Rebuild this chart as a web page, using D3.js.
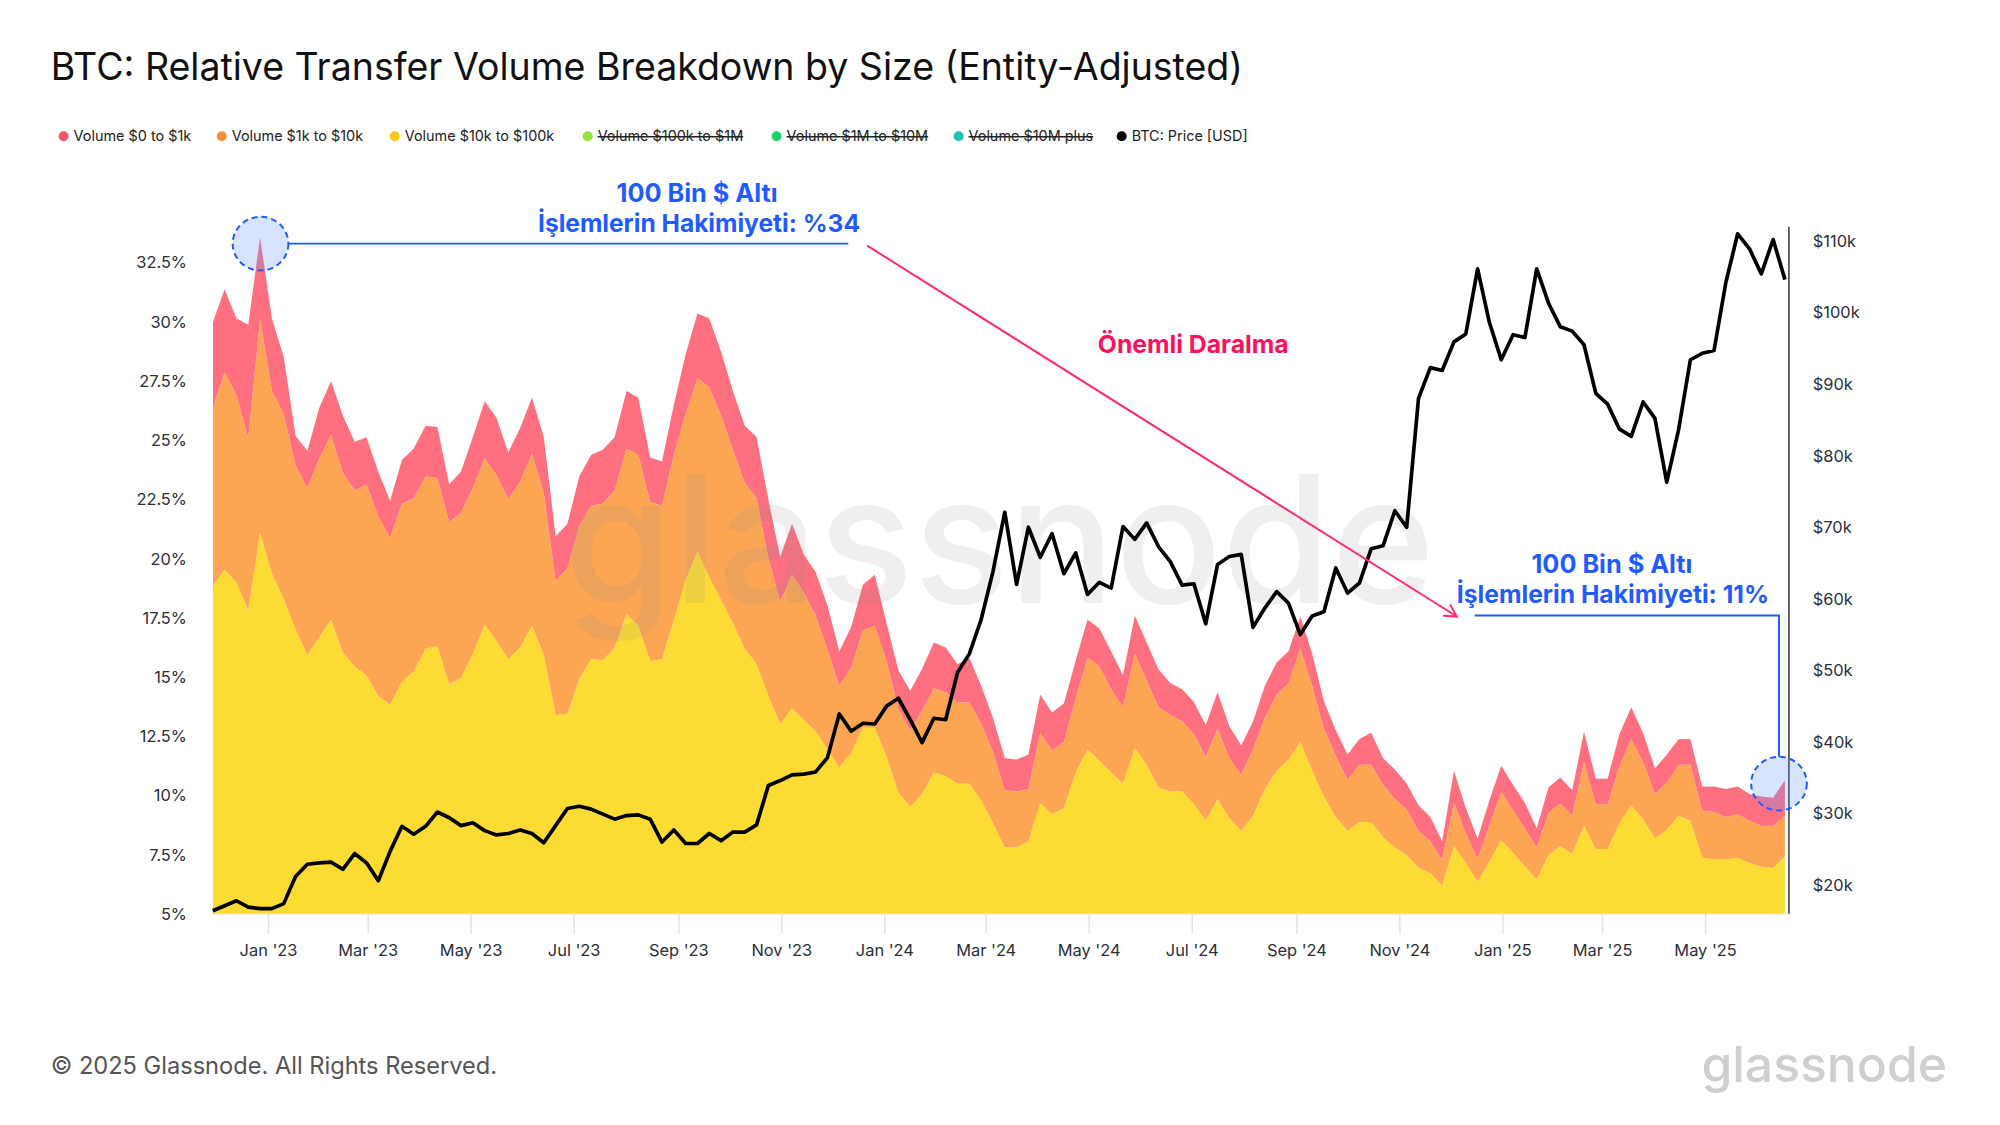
<!DOCTYPE html>
<html><head><meta charset="utf-8">
<script src="https://cdn.jsdelivr.net/npm/d3@7"></script>
<style>html,body{margin:0;padding:0;background:#fff;}svg{display:block;}</style>
</head><body>
<svg id="chart" width="2000" height="1125"></svg>
<script>
// ---------------- DATA (weekly, starting 2022-11-29) ----------------
const startDate = "2022-11-29";
const stepDays = 7;

// Volume $10k to $100k (share of total, %)
const vol10kTo100k = [
18.83,19.53,18.99,17.81,21.09,19.37,18.29,17.00,15.93,16.68,
17.43,16.03,15.44,15.06,14.20,13.83,14.80,15.23,16.19,16.30,
14.69,14.96,15.98,17.22,16.52,15.76,16.25,17.16,15.93,13.40,
13.45,14.90,15.76,15.71,16.25,17.65,17.16,15.66,15.76,17.38,
19.10,20.29,19.21,18.24,17.27,16.19,15.55,14.20,13.02,13.67,
13.18,12.70,11.94,11.19,11.78,12.86,12.86,11.62,10.11,9.52,
10.06,10.97,10.81,10.49,10.49,9.79,8.82,7.80,7.80,8.07,
9.68,9.20,9.47,10.97,11.94,11.46,10.97,10.49,12.00,11.30,
10.33,10.17,10.17,9.63,8.93,9.84,9.04,8.50,9.14,10.27,
11.03,11.51,12.27,11.03,9.95,9.09,8.50,8.88,8.88,8.23,
7.80,7.48,6.94,6.72,6.18,7.85,7.15,6.35,7.21,8.12,
7.58,6.99,6.45,7.48,7.85,7.53,8.71,7.74,7.74,8.82,
9.57,8.98,8.18,8.55,9.14,8.93,7.37,7.31,7.31,7.37,
7.15,6.99,6.94,7.42];

// Volume $1k to $10k (%)
const vol1kTo10k = [
7.53,8.34,7.91,7.27,9.04,7.70,7.80,6.94,7.05,7.53,
7.80,7.59,7.43,8.07,7.59,7.05,7.53,7.32,7.27,7.10,
6.84,7.00,7.00,7.00,7.00,6.73,7.00,7.27,6.84,5.65,
6.14,6.46,6.46,6.62,6.62,7.00,7.21,6.73,6.46,7.00,
7.00,7.32,8.02,7.80,7.32,7.00,7.00,5.81,5.17,5.65,
5.38,4.90,4.20,3.44,3.61,4.09,4.31,4.04,3.55,3.23,
3.50,3.55,3.55,3.44,3.44,3.23,3.01,2.42,2.37,2.21,
2.96,2.69,2.80,3.12,3.88,3.98,3.50,3.23,3.98,3.55,
3.39,3.23,2.96,2.96,2.69,2.96,2.53,2.37,2.80,3.01,
3.23,3.23,3.93,3.61,2.85,2.58,2.15,2.42,2.42,2.21,
2.05,1.94,1.56,1.35,1.08,1.83,1.24,0.97,1.51,2.05,
1.78,1.61,1.35,1.78,1.83,1.61,2.69,1.88,1.88,2.42,
2.80,2.42,1.88,1.99,2.15,2.37,1.99,1.99,1.78,1.83,
1.78,1.72,1.78,1.72];

// Volume $0 to $1k (%)
const vol0To1k = [
3.61,3.50,3.23,4.79,3.44,3.07,2.42,1.24,1.56,2.15,
2.26,2.42,2.05,1.99,1.88,1.56,1.83,2.10,2.15,2.15,
1.61,1.72,2.15,2.42,2.42,1.99,2.26,2.37,2.37,1.88,
1.88,2.10,2.15,2.26,2.26,2.42,2.42,1.88,1.88,2.10,
2.53,2.74,2.91,2.69,2.48,2.42,2.58,2.48,1.88,2.15,
1.61,1.83,1.88,1.45,1.72,1.94,2.15,1.61,1.61,1.67,
1.78,1.94,1.88,1.61,1.88,1.61,1.45,1.35,1.35,1.45,
1.61,1.61,1.61,1.61,1.61,1.61,1.61,1.35,1.61,1.61,
1.61,1.35,1.35,1.35,1.35,1.56,1.35,1.24,1.18,1.35,
1.35,1.35,1.35,1.35,1.18,1.08,1.08,1.08,1.35,1.13,
1.24,1.08,1.08,1.02,0.81,1.35,1.08,0.86,1.08,1.08,
1.08,1.08,0.81,1.08,1.08,1.08,1.29,1.08,1.08,1.35,
1.35,1.24,1.08,1.18,1.08,1.08,1.02,1.08,1.18,1.18,
1.13,1.24,1.18,1.51];

// BTC price (USD thousands)
const btcPriceK = [
16.4,17.1,17.8,16.9,16.7,16.7,17.4,21.2,22.9,23.1,
23.2,22.2,24.4,23.1,20.6,24.7,28.2,27.1,28.2,30.2,
29.4,28.3,28.7,27.6,27.0,27.2,27.7,27.2,25.9,28.3,
30.7,31.0,30.6,29.9,29.2,29.7,29.8,29.2,26.0,27.7,
25.8,25.8,27.2,26.2,27.4,27.4,28.4,33.9,34.6,35.4,
35.5,35.8,37.8,43.9,41.5,42.6,42.5,45.0,46.1,43.1,
39.9,43.3,43.1,49.7,52.3,57.1,63.8,72.1,62.0,70.0,
65.8,69.1,63.5,66.4,60.6,62.3,61.5,70.1,68.3,70.6,
67.3,65.2,61.9,62.1,56.5,64.8,65.9,66.2,56.0,58.7,
61.0,59.4,55.0,57.6,58.2,64.3,60.8,62.2,67.0,67.4,
72.3,70.0,88.0,92.3,91.9,95.9,97.0,106.1,98.6,93.4,
96.9,96.5,106.1,101.3,98.0,97.4,95.5,88.7,87.2,83.7,
82.7,87.5,85.2,76.3,83.6,93.4,94.3,94.7,104.2,111.0,
108.9,105.4,110.2,104.6];

const xTickDates = ["2023-01-01","2023-03-01","2023-05-01","2023-07-01","2023-09-01","2023-11-01",
  "2024-01-01","2024-03-01","2024-05-01","2024-07-01","2024-09-01","2024-11-01",
  "2025-01-01","2025-03-01","2025-05-01"];
const xTickLabels = ["Jan '23","Mar '23","May '23","Jul '23","Sep '23","Nov '23",
  "Jan '24","Mar '24","May '24","Jul '24","Sep '24","Nov '24",
  "Jan '25","Mar '25","May '25"];
const yLeftTicks = [5,7.5,10,12.5,15,17.5,20,22.5,25,27.5,30,32.5];
const yLeftLabels = ["5%","7.5%","10%","12.5%","15%","17.5%","20%","22.5%","25%","27.5%","30%","32.5%"];
const yRightTicks = [20,30,40,50,60,70,80,90,100,110];
const yRightLabels = ["$20k","$30k","$40k","$50k","$60k","$70k","$80k","$90k","$100k","$110k"];

const legendNames = ["Volume $0 to $1k","Volume $1k to $10k","Volume $10k to $100k","Volume $100k to $1M","Volume $1M to $10M","Volume $10M plus","BTC: Price [USD]"];
const legendColors = ["#f5566a","#fa8f35","#f8c816","#96e13a","#19d36c","#19c6ad","#000000"];
const legendHidden = [false,false,false,true,true,true,false];

// ---------------- LAYOUT ----------------
const L = 214, R = 1795, T = 228, B = 919;
const FONT = "Inter, 'Noto Sans', sans-serif";

const root = d3.select("#chart");
const svg = root.append("g").attr("transform", "scale(0.9944)");
const parse = d3.utcParse("%Y-%m-%d");
const t0 = parse(startDate);
const dates = vol0To1k.map((_, i) => d3.utcDay.offset(t0, i * stepDays));
const rows = dates.map((d, i) => ({date: d, y: vol10kTo100k[i], o: vol1kTo10k[i], r: vol0To1k[i], p: btcPriceK[i]}));

const x = d3.scaleUtc().domain([dates[0], dates[dates.length - 1]]).range([L, R]);
const yL = d3.scaleLinear().domain([5, 34.01]).range([B, T]);
const yR = d3.scaleLinear().domain([15.97, 111.99]).range([B, T]);

function fit(sel, target) {
  const w = sel.node().getComputedTextLength();
  const fs = parseFloat(sel.attr("font-size"));
  sel.attr("font-size", (fs * target / w).toFixed(2));
  return sel;
}

// Title
fit(svg.append("text").attr("x", 51).attr("y", 80).attr("font-family", FONT).attr("font-size", 36)
  .attr("fill", "#111").text("BTC: Relative Transfer Volume Breakdown by Size (Entity-Adjusted)"), 1199);

// Legend
const legX = [64, 223, 397, 591, 781, 964, 1128];
legendNames.forEach((n, i) => {
  const g = svg.append("g");
  g.append("circle").attr("cx", legX[i]).attr("cy", 137).attr("r", 5).attr("fill", legendColors[i]);
  const t = g.append("text").attr("x", legX[i] + 10).attr("y", 142).attr("font-family", FONT)
    .attr("font-size", 14.5).attr("fill", "#222").text(n);
  if (legendHidden[i]) {
    const w = t.node().getComputedTextLength();
    g.append("line").attr("x1", legX[i] + 10).attr("x2", legX[i] + 10 + w).attr("y1", 137.5).attr("y2", 137.5)
      .attr("stroke", "#222").attr("stroke-width", 1.3);
  }
});

// Clip
root.append("defs").append("clipPath").attr("id", "plotClip").append("rect")
  .attr("x", L).attr("y", T - 10).attr("width", R - L).attr("height", B - T + 10);

// Stacked areas
const stack = d3.stack().keys(["y", "o", "r"]);
const series = stack(rows);
const fills = {y: "#fddb35", o: "#fca654", r: "#fe7080"};
const area = d3.area().x(d => x(d.data.date)).y0(d => yL(d[0])).y1(d => yL(d[1])).curve(d3.curveLinear);
const plot = svg.append("g").attr("clip-path", "url(#plotClip)");
plot.selectAll("path.area").data(series).join("path").attr("class", "area")
  .attr("d", area).attr("fill", d => fills[d.key]);

// Watermark
fit(svg.append("text").attr("x", 567).attr("y", 606).attr("font-family", FONT).attr("font-weight", 500)
  .attr("font-size", 165).attr("fill", "#8a8a8a").attr("opacity", 0.13).text("glassnode"), 876);

// x ticks
const xTicks = xTickDates.map(parse);
svg.append("line").attr("x1", L).attr("x2", R).attr("y1", B + 0.5).attr("y2", B + 0.5).attr("stroke", "#ececec");
xTicks.forEach((d, i) => {
  svg.append("line").attr("x1", x(d)).attr("x2", x(d)).attr("y1", B).attr("y2", B + 20)
    .attr("stroke", "#e4e4e4").attr("stroke-width", 1.5);
  svg.append("text").attr("x", x(d)).attr("y", 961).attr("text-anchor", "middle").attr("font-family", FONT)
    .attr("font-size", 16.5).attr("fill", "#2a2f3a").text(xTickLabels[i]);
});

// left y ticks
yLeftTicks.forEach((v, i) => {
  svg.append("text").attr("x", 188).attr("y", yL(v) + 6).attr("text-anchor", "end").attr("font-family", FONT)
    .attr("font-size", 16.5).attr("fill", "#2a2f3a").text(yLeftLabels[i]);
});
// right y ticks
yRightTicks.forEach((v, i) => {
  svg.append("text").attr("x", 1823).attr("y", yR(v) + 6).attr("font-family", FONT)
    .attr("font-size", 16.5).attr("fill", "#2a2f3a").text(yRightLabels[i]);
});
svg.append("line").attr("x1", 1799).attr("x2", 1799).attr("y1", T).attr("y2", B).attr("stroke", "#333").attr("stroke-width", 1.5);

// Price line
const line = d3.line().x(d => x(d.date)).y(d => yR(d.p)).curve(d3.curveLinear);
svg.append("path").datum(rows).attr("d", line).attr("fill", "none").attr("stroke", "#000")
  .attr("stroke-width", 3.7).attr("stroke-linejoin", "round");

// ---------------- Annotations ----------------
const blue = "#1f5bff";
const pink = "#ff2a74";
function ell(cx, cy) {
  svg.append("ellipse").attr("cx", cx).attr("cy", cy).attr("rx", 28).attr("ry", 27)
    .attr("fill", "rgba(100,150,255,0.26)").attr("stroke", blue).attr("stroke-width", 2)
    .attr("stroke-dasharray", "6,4");
}
ell(262, 245);
svg.append("line").attr("x1", 290).attr("x2", 853).attr("y1", 245).attr("y2", 245).attr("stroke", blue).attr("stroke-width", 2);
fit(svg.append("text").attr("x", 701).attr("y", 203).attr("text-anchor", "middle").attr("font-family", FONT)
  .attr("font-weight", 700).attr("font-size", 25).attr("fill", blue).text("100 Bin $ Altı"), 162);
fit(svg.append("text").attr("x", 703).attr("y", 233).attr("text-anchor", "middle").attr("font-family", FONT)
  .attr("font-weight", 700).attr("font-size", 25).attr("fill", blue).text("İşlemlerin Hakimiyeti: %34"), 324);

// Pink arrow
const ax1 = 872, ay1 = 247, ax2 = 1465, ay2 = 620;
svg.append("line").attr("x1", ax1).attr("y1", ay1).attr("x2", ax2).attr("y2", ay2).attr("stroke", pink).attr("stroke-width", 2);
const ang = Math.atan2(ay2 - ay1, ax2 - ax1), hl = 14, ha = 0.5;
svg.append("path").attr("d", `M${ax2 - hl * Math.cos(ang - ha)},${ay2 - hl * Math.sin(ang - ha)} L${ax2},${ay2} L${ax2 - hl * Math.cos(ang + ha)},${ay2 - hl * Math.sin(ang + ha)}`)
  .attr("fill", "none").attr("stroke", pink).attr("stroke-width", 2);
fit(svg.append("text").attr("x", 1200).attr("y", 355).attr("text-anchor", "middle").attr("font-family", FONT)
  .attr("font-weight", 700).attr("font-size", 24).attr("fill", "#ff0f5b").text("Önemli Daralma"), 192);

// Right annotation
fit(svg.append("text").attr("x", 1621).attr("y", 576).attr("text-anchor", "middle").attr("font-family", FONT)
  .attr("font-weight", 700).attr("font-size", 25).attr("fill", blue).text("100 Bin $ Altı"), 162);
fit(svg.append("text").attr("x", 1622).attr("y", 606).attr("text-anchor", "middle").attr("font-family", FONT)
  .attr("font-weight", 700).attr("font-size", 25).attr("fill", blue).text("İşlemlerin Hakimiyeti: 11%"), 314);
svg.append("path").attr("d", "M1483,619 L1789,619 L1789,761").attr("fill", "none").attr("stroke", blue).attr("stroke-width", 2);
ell(1789, 788);

// Footer
fit(svg.append("text").attr("x", 51).attr("y", 1080).attr("font-family", FONT).attr("font-size", 22)
  .attr("fill", "#555").text("© 2025 Glassnode. All Rights Reserved."), 449);
fit(svg.append("text").attr("x", 1711).attr("y", 1088).attr("font-family", FONT).attr("font-weight", 500)
  .attr("font-size", 52).attr("fill", "#cfcfcf").text("glassnode"), 247);
</script>
</body></html>
